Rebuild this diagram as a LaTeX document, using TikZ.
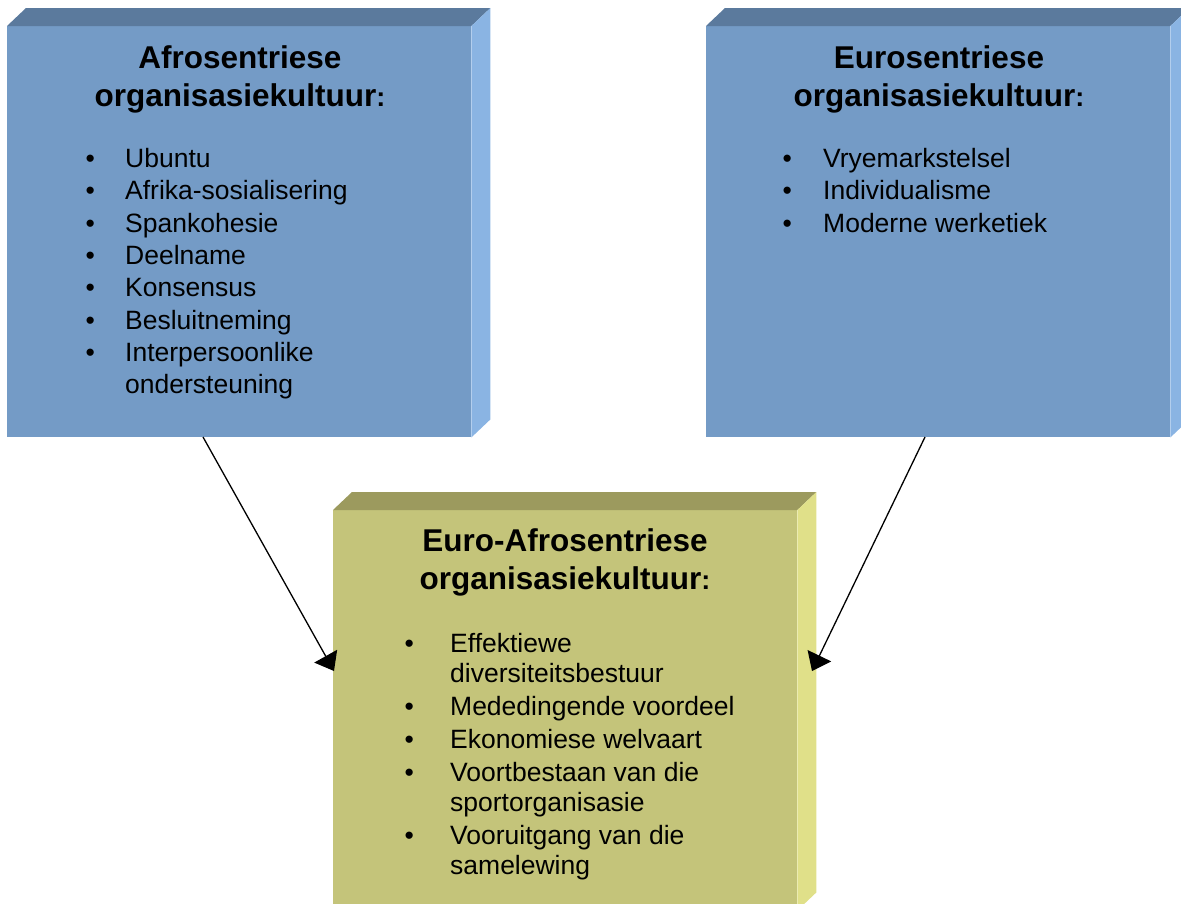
\documentclass[tikz,border=0pt]{standalone}
\usepackage{fontspec}
\setmainfont{Liberation Sans}
\usetikzlibrary{arrows.meta}
% box colours
\definecolor{bluefront}{RGB}{116,155,198}
\definecolor{bluetop}{RGB}{91,122,157}
\definecolor{blueside}{RGB}{138,180,227}
\definecolor{yellowfront}{RGB}{196,196,122}
\definecolor{yellowtop}{RGB}{156,154,94}
\definecolor{yellowside}{RGB}{224,224,137}
\newcommand{\titlefont}{\fontsize{31.5}{38}\selectfont\bfseries}
\newcommand{\listfont}{\fontsize{26.5}{32.3}\selectfont}
\newcommand{\titlecolon}{{\fontsize{27}{27}\selectfont:}}
\tikzset{
  frontface/.style={anchor=north west, inner sep=0pt, minimum width=464pt},
  boxtitle/.style={anchor=base, inner sep=0pt, font=\titlefont},
  boxlist/.style={anchor=base west, inner sep=0pt, font=\listfont},
  feeds/.style={line width=1.3pt, -{Triangle[length=17pt,width=26pt]}}
}
\begin{document}
\begin{tikzpicture}[x=1pt,y=-1pt]
\useasboundingbox (0,0) rectangle (1181,903);
% Afrosentriese box
\node[frontface, minimum height=411pt, fill=bluefront] (afro) at (7,26) {};
\fill[bluetop] (afro.north west) -- ++(19,-18) -- ([shift={(19,-18)}]afro.north east) -- (afro.north east) -- cycle;
\fill[blueside] (afro.north east) -- ++(19,-18) -- ([shift={(19,-18)}]afro.south east) -- (afro.south east) -- cycle;
% Eurosentriese box
\node[frontface, minimum height=411pt, fill=bluefront] (euro) at (706,26) {};
\fill[bluetop] (euro.north west) -- ++(19,-18) -- ([shift={(19,-18)}]euro.north east) -- (euro.north east) -- cycle;
\fill[blueside] (euro.north east) -- ++(19,-18) -- ([shift={(19,-18)}]euro.south east) -- (euro.south east) -- cycle;
% Euro-Afrosentriese box
\node[frontface, minimum height=400pt, fill=yellowfront] (euroafro) at (333,510) {};
\fill[yellowtop] (euroafro.north west) -- ++(19,-18) -- ([shift={(19,-18)}]euroafro.north east) -- (euroafro.north east) -- cycle;
\fill[yellowside] (euroafro.north east) -- ++(19,-18) -- ([shift={(19,-18)}]euroafro.south east) -- (euroafro.south east) -- cycle;
% titles
\node[boxtitle] (afrotitle) at (240,68) {\begin{tabular}[t]{@{}c@{}}Afrosentriese\\organisasiekultuur\titlecolon\end{tabular}};
\node[boxtitle] (eurotitle) at (939,68) {\begin{tabular}[t]{@{}c@{}}Eurosentriese\\organisasiekultuur\titlecolon\end{tabular}};
\node[boxtitle] (euroafrotitle) at (565,551) {\begin{tabular}[t]{@{}c@{}}Euro-Afrosentriese\\organisasiekultuur\titlecolon\end{tabular}};
% lists
\node[boxlist] (afrolist) at (85.5,167.5) {\begin{tabular}[t]{@{}p{39.5pt}@{}l@{}}
\textbullet & Ubuntu\\
\textbullet & Afrika-sosialisering\\
\textbullet & Spankohesie\\
\textbullet & Deelname\\
\textbullet & Konsensus\\
\textbullet & Besluitneming\\
\textbullet & Interpersoonlike\\
 & ondersteuning
\end{tabular}};
\node[boxlist] (eurolist) at (782.5,167.5) {\begin{tabular}[t]{@{}p{40.5pt}@{}l@{}}
\textbullet & Vryemarkstelsel\\
\textbullet & Individualisme\\
\textbullet & Moderne werketiek
\end{tabular}};
\node[boxlist, font=\fontsize{26.5}{30}\selectfont] (euroafrolist) at (404.5,652.5) {\begin{tabular}[t]{@{}p{45.5pt}@{}l@{}}
\textbullet & Effektiewe\\
 & diversiteitsbestuur\\[3pt]
\textbullet & Mededingende voordeel\\[3pt]
\textbullet & Ekonomiese welvaart\\[3pt]
\textbullet & Voortbestaan van die\\
 & sportorganisasie\\[3pt]
\textbullet & Vooruitgang van die\\
 & samelewing
\end{tabular}};
% connectors
\coordinate (afroout) at (203,437);
\coordinate (euroout) at (925,437);
\coordinate (euroafroinl) at (334,671);
\coordinate (euroafroinr) at (812,671);
\draw[feeds] (afroout) -- (euroafroinl);
\draw[feeds] (euroout) -- (euroafroinr);
\end{tikzpicture}
\end{document}
